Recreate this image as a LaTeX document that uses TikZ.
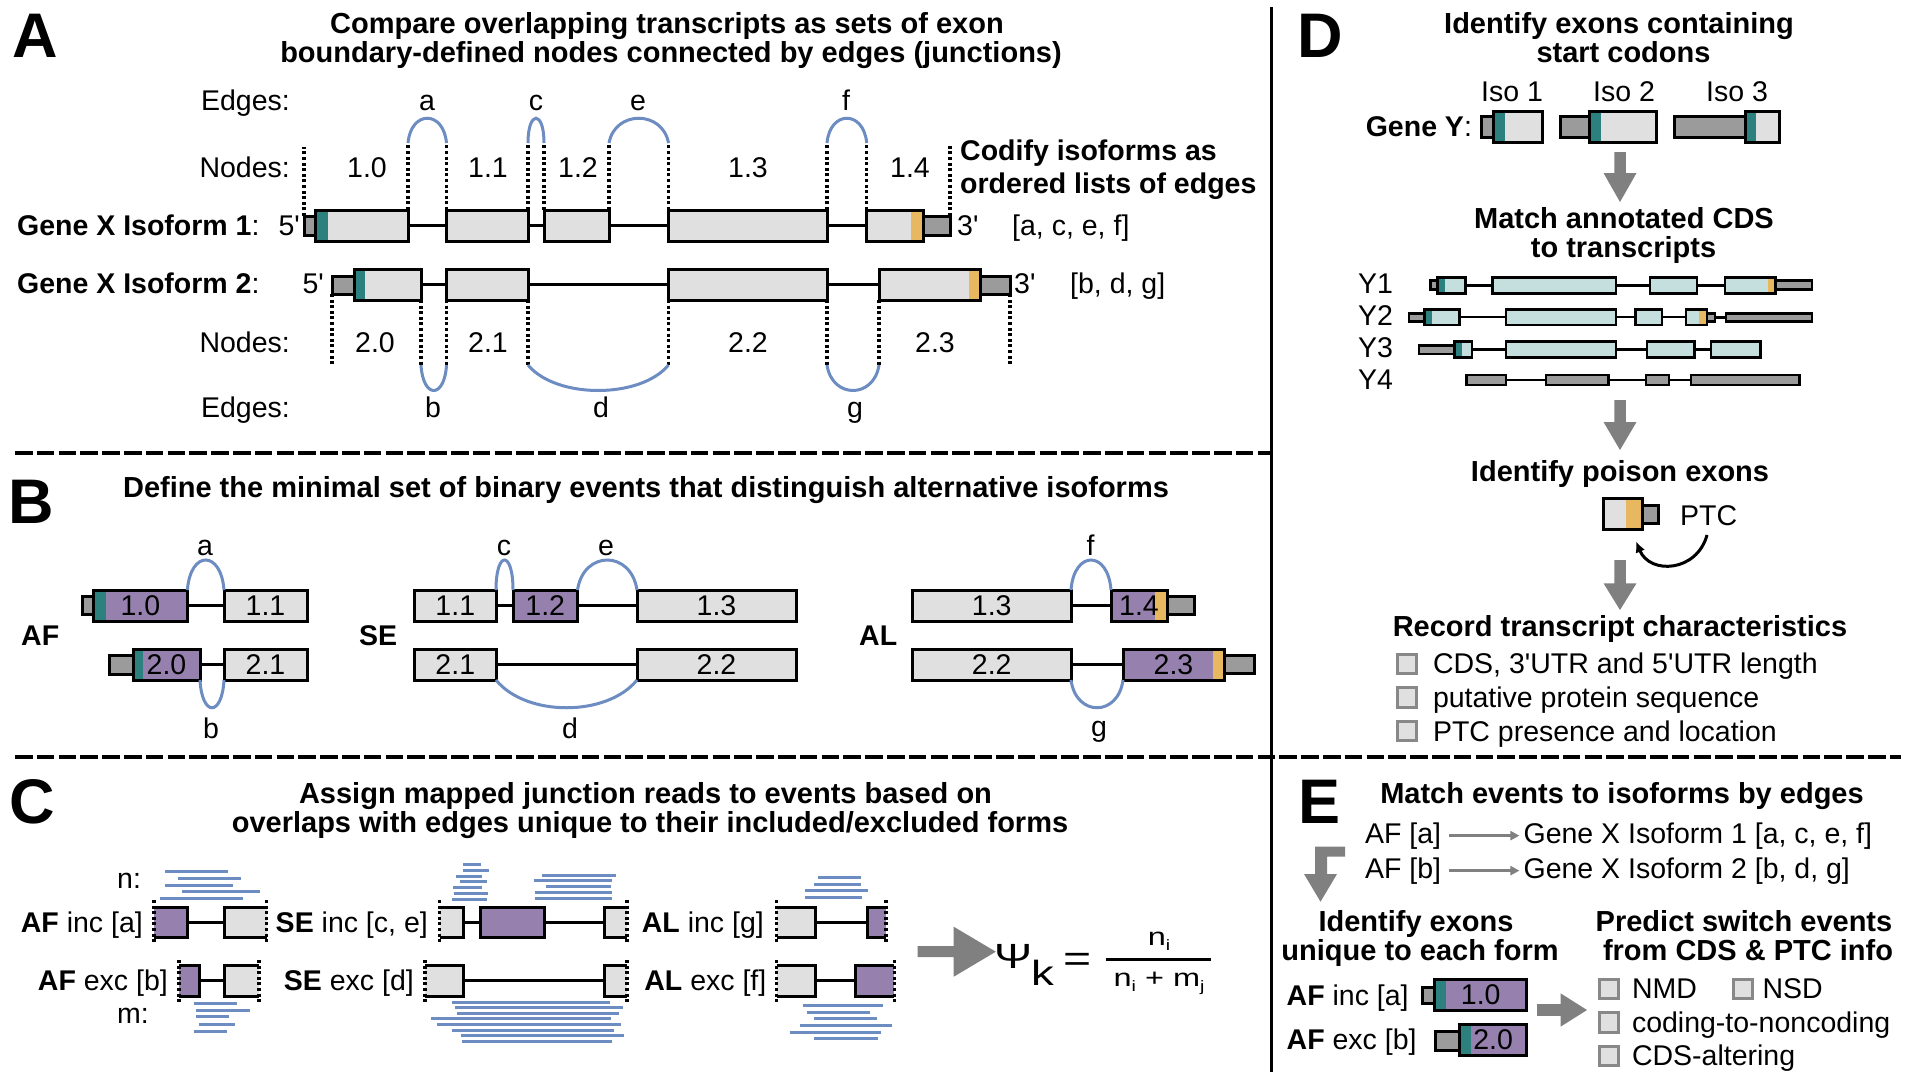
\documentclass[tikz,border=0pt]{standalone}
\usepackage{fontspec}
\setmainfont{Liberation Sans}
\newfontfamily\fmf[FakeStretch=1.3]{Liberation Sans}
\usetikzlibrary{arrows.meta}
\definecolor{exg}{RGB}{224,224,224}
\definecolor{utrg}{RGB}{155,155,155}
\definecolor{tealc}{RGB}{44,128,125}
\definecolor{orc}{RGB}{232,184,96}
\definecolor{purc}{RGB}{149,128,174}
\definecolor{bluec}{RGB}{108,140,194}
\definecolor{cdsc}{RGB}{197,223,222}
\definecolor{arrg}{RGB}{128,128,128}
\definecolor{boxg}{RGB}{136,136,136}
\newcommand\lab{\fontsize{28.5}{30}\selectfont}
\newcommand\ttlf{\fontsize{29}{29}\selectfont\bfseries}
\newcommand\apos{\textquotesingle}
\newcommand\fsub[1]{\raisebox{-5pt}{\fontsize{15}{15}\selectfont #1}}
\newcommand\mkex[7]{\node[#1, minimum width={(#4-#3)*1pt}, minimum height={(#6-#5)*1pt}] (#2) at ({(#3+#4)/2},{(#5+#6)/2}) {#7};}
\newcommand\gdarr[4]{\fill[arrg] (#1-5.75,#2) -- (#1+5.75,#2) -- (#1+5.75,#3) -- (#1+16.5,#3) -- (#1,#4) -- (#1-16.5,#3) -- (#1-5.75,#3) -- cycle;}
\begin{document}
\begin{tikzpicture}[x=1pt,y=-1pt,
 ex/.style={draw=black, line width=3pt, fill=exg, inner sep=0pt, outer sep=0pt, font=\lab},
 pex/.style={ex, fill=purc},
 utr/.style={ex, fill=utrg},
 cds/.style={ex, fill=cdsc, line width=2.5pt},
 dutr/.style={ex, fill=utrg, line width=2.5pt},
 cf/.style={inner sep=0pt, outer sep=0pt},
 tl/.style={path picture={\fill[tealc] (path picture bounding box.south west) rectangle ([xshift=#1]path picture bounding box.north west);}},
 orr/.style={path picture={\fill[orc] (path picture bounding box.south east) rectangle ([xshift=-#1]path picture bounding box.north east);}},
 intr/.style={line width=3pt},
 dintr/.style={line width=2.5pt},
 arcl/.style={draw=bluec, line width=3pt},
 dotl/.style={line width=3.2pt, dash pattern=on 3pt off 2.6pt},
 read/.style={draw=bluec, line width=3pt},
 lab/.style={font=\lab, inner sep=0pt, anchor=base},
 labw/.style={lab, anchor=base west},
 labe/.style={lab, anchor=base east},
 ttl/.style={font=\ttlf, inner sep=0pt, anchor=base},
 plet/.style={font=\fontsize{63}{63}\selectfont\bfseries, inner sep=0pt, anchor=base west},
 dsep/.style={line width=3.4pt, dash pattern=on 17.5pt off 4.3pt},
 chk/.style={draw=boxg, line width=3pt, fill=exg, minimum size=19.5pt, inner sep=0pt},
 tarr/.style={draw=arrg, line width=2.5pt, -{Triangle[length=9pt,width=9pt]}},
 curarr/.style={draw=black, line width=3pt, -{Latex[length=11pt,width=10pt]}},
 fml/.style={inner sep=0pt, anchor=base west}
]
\fill[white] (0,0) rectangle (1916,1076);
\useasboundingbox (0,0) rectangle (1916,1076);
% separators
\draw[line width=3pt] (1271,7) -- (1271,1072);
\draw[dsep] (15,453) -- (1271,453);
\draw[dsep] (15,757) -- (1901,757);

% ================= Panel A =================
\node[plet] (LA) at (12,57) {A};
\node[ttl] (tA1) at (667,33) {Compare overlapping transcripts as sets of exon};
\node[ttl] (tA2) at (671,62) {boundary-defined nodes connected by edges (junctions)};
\node[labe] (edg1) at (290,110) {Edges:};
\node[labe] (nod1) at (290,177) {Nodes:};
\node[labe] (nod2) at (290,352) {Nodes:};
\node[labe] (edg2) at (290,417) {Edges:};
\node[labw] (g1) at (17,235) {\textbf{Gene X Isoform 1}:};
\node[labe] (p51) at (300,235) {5\apos};
\node[labw] (g2) at (17,293) {\textbf{Gene X Isoform 2}:};
\node[labe] (p52) at (324,293) {5\apos};
% isoform 1
\mkex{utr}{u1a}{304}{315}{216}{235}{}
\mkex{ex,tl=13pt}{e10}{315}{408}{210}{241}{}
\mkex{ex}{e11}{446.5}{528}{210}{241}{}
\mkex{ex}{e12}{544}{609}{210}{241}{}
\mkex{ex}{e13}{668.5}{827}{210}{241}{}
\mkex{utr}{u1b}{923}{950}{216}{235}{}
\mkex{ex,orr=12pt}{e14}{866.7}{923}{210}{241}{}
\draw[intr] (e10.east) -- (e11.west);
\draw[intr] (e11.east) -- (e12.west);
\draw[intr] (e12.east) -- (e13.west);
\draw[intr] (e13.east) -- (e14.west);
\node[labw] (p31) at (957,235) {3\apos};
\node[labw] (l1) at (1012,235) {[a, c, e, f]};
% isoform 2
\mkex{utr}{u2a}{332}{354}{276}{294}{}
\mkex{ex,tl=11pt}{e20}{354}{421}{269}{300}{}
\mkex{ex}{e21}{446.5}{528}{269}{300}{}
\mkex{ex}{e22}{668.5}{827}{269}{300}{}
\mkex{utr}{u2b}{980}{1010}{276}{294}{}
\mkex{ex,orr=11.5pt}{e23}{879}{980}{269}{300}{}
\draw[intr] (e20.east) -- (e21.west);
\draw[intr] (e21.east) -- (e22.west);
\draw[intr] (e22.east) -- (e23.west);
\node[labw] (p32) at (1014,293) {3\apos};
\node[labw] (l2) at (1070,293) {[b, d, g]};
% dotted lines and arcs row 1
\draw[dotl] (u1a.north west) -- ++(0,-69);
\draw[dotl] (e10.north east) -- ++(0,-67) coordinate (a1);
\draw[dotl] (e11.north west) -- ++(0,-67) coordinate (a2);
\draw[dotl] (e11.north east) -- ++(0,-67) coordinate (c1);
\draw[dotl] (e12.north west) -- ++(0,-67) coordinate (c2);
\draw[dotl] (e12.north east) -- ++(0,-67) coordinate (ee1);
\draw[dotl] (e13.north west) -- ++(0,-67) coordinate (ee2);
\draw[dotl] (e13.north east) -- ++(0,-67) coordinate (f1);
\draw[dotl] (e14.north west) -- ++(0,-67) coordinate (f2);
\draw[dotl] (u1b.north east) -- ++(0,-70);
\draw[arcl] (a1) .. controls +(3,-33) and +(-3,-33) .. (a2);
\draw[arcl] (c1) .. controls +(0,-33) and +(0,-33) .. (c2);
\draw[arcl] (ee1) .. controls +(6,-33) and +(-6,-33) .. (ee2);
\draw[arcl] (f1) .. controls +(3,-33) and +(-3,-33) .. (f2);
\node[lab] (la) at (427,110) {a};
\node[lab] (lc) at (536,110) {c};
\node[lab] (le) at (638,110) {e};
\node[lab] (lf) at (846,110) {f};
\node[lab] (n10) at (367,177) {1.0};
\node[lab] (n11) at (488,177) {1.1};
\node[lab] (n12) at (578,177) {1.2};
\node[lab] (n13) at (748,177) {1.3};
\node[lab] (n14) at (910,177) {1.4};
% row 2 dotted + arcs
\draw[dotl] (u2a.south west) -- ++(0,71);
\draw[dotl] (e20.south east) -- ++(0,65) coordinate (b1);
\draw[dotl] (e21.south west) -- ++(0,65) coordinate (b2);
\draw[dotl] (e21.south east) -- ++(0,65) coordinate (d1);
\draw[dotl] (e22.south west) -- ++(0,65) coordinate (d2);
\draw[dotl] (e22.south east) -- ++(0,65) coordinate (g1);
\draw[dotl] (e23.south west) -- ++(0,65) coordinate (g2);
\draw[dotl] (u2b.south east) -- ++(0,71);
\draw[arcl] (b1) .. controls +(2,34) and +(-2,34) .. (b2);
\draw[arcl] (d1) .. controls +(28,34) and +(-28,34) .. (d2);
\draw[arcl] (g1) .. controls +(5,34) and +(-5,34) .. (g2);
\node[lab] (n20) at (375,352) {2.0};
\node[lab] (n21) at (488,352) {2.1};
\node[lab] (n22) at (748,352) {2.2};
\node[lab] (n23) at (935,352) {2.3};
\node[lab] (lb) at (433,417) {b};
\node[lab] (ld) at (601,417) {d};
\node[lab] (lg) at (855,417) {g};
\node[labw, font=\lab\bfseries] (cod1) at (960,160) {Codify isoforms as};
\node[labw, font=\lab\bfseries] (cod2) at (960,193) {ordered lists of edges};

% ================= Panel B =================
\node[plet] (LB) at (8,523) {B};
\node[ttl] (tB) at (646,497) {Define the minimal set of binary events that distinguish alternative isoforms};
\node[labw, font=\lab\bfseries] (bAF) at (21,645) {AF};
\node[labw, font=\lab\bfseries] (bSE) at (359,645) {SE};
\node[labw, font=\lab\bfseries] (bAL) at (859,645) {AL};
% AF
\mkex{utr}{bu1}{82}{93.3}{596}{614}{}
\mkex{pex,tl=13pt}{b10}{93.3}{187.4}{590}{621}{1.0}
\mkex{ex}{b11}{224}{307}{590}{621}{1.1}
\draw[intr] (b10.east) -- (b11.west);
\draw[arcl] (b10.north east) .. controls +(3,-40) and +(-3,-40) .. (b11.north west);
\node[lab] (ba) at (205,555) {a};
\mkex{utr}{bu2}{109}{133}{655}{674}{}
\mkex{pex,tl=10pt}{b20}{133}{200}{649}{680}{2.0}
\mkex{ex}{b21}{224}{307}{649}{680}{2.1}
\draw[intr] (b20.east) -- (b21.west);
\draw[arcl] (b20.south east) .. controls +(2,37) and +(-2,37) .. (b21.south west);
\node[lab] (bb) at (211,738) {b};
% SE
\mkex{ex}{s11}{414.6}{496}{590}{621}{1.1}
\mkex{pex}{s12}{513}{577.5}{590}{621}{1.2}
\mkex{ex}{s13}{637}{796}{590}{621}{1.3}
\draw[intr] (s11.east) -- (s12.west);
\draw[intr] (s12.east) -- (s13.west);
\draw[arcl] (s11.north east) .. controls +(0,-40) and +(0,-40) .. (s12.north west);
\draw[arcl] (s12.north east) .. controls +(6,-40) and +(-6,-40) .. (s13.north west);
\node[lab] (sc) at (504,555) {c};
\node[lab] (se) at (606,555) {e};
\mkex{ex}{s21}{414.6}{496}{649}{680}{2.1}
\mkex{ex}{s22}{637}{796}{649}{680}{2.2}
\draw[intr] (s21.east) -- (s22.west);
\draw[arcl] (s21.south east) .. controls +(30,37) and +(-30,37) .. (s22.south west);
\node[lab] (sd) at (570,738) {d};
% AL
\mkex{ex}{a13}{912.5}{1071}{590}{621}{1.3}
\mkex{utr}{au1}{1167}{1194.5}{596}{614}{}
\mkex{pex,orr=12pt}{a14}{1111}{1167}{590}{621}{1.4}
\draw[intr] (a13.east) -- (a14.west);
\draw[arcl] (a13.north east) .. controls +(3,-40) and +(-3,-40) .. (a14.north west);
\node[lab] (af) at (1090.5,555) {f};
\mkex{ex}{a22}{912.5}{1071}{649}{680}{2.2}
\mkex{utr}{au2}{1224}{1254}{655}{673}{}
\mkex{pex,orr=11pt}{a23}{1123}{1224}{649}{680}{2.3}
\draw[intr] (a22.east) -- (a23.west);
\draw[arcl] (a22.south east) .. controls +(5,37) and +(-5,37) .. (a23.south west);
\node[lab] (ag) at (1099,736) {g};

% ================= Panel C =================
\node[plet] (LC) at (9,823) {C};
\node[ttl] (tC1) at (645.5,803) {Assign mapped junction reads to events based on};
\node[ttl] (tC2) at (650,832) {overlaps with edges unique to their included/excluded forms};
\node[labw] (cn) at (117,888) {n:};
\node[labw] (cm) at (117,1023) {m:};
\node[labe] (cAFi) at (143,932) {\textbf{AF} inc [a]};
\node[labe] (cAFe) at (168,990) {\textbf{AF} exc [b]};
\node[labe] (cSEi) at (428,932) {\textbf{SE} inc [c, e]};
\node[labe] (cSEe) at (414,990) {\textbf{SE} exc [d]};
\node[labe] (cALi) at (764,932) {\textbf{AL} inc [g]};
\node[labe] (cALe) at (766.5,990) {\textbf{AL} exc [f]};
% AF inc
\mkex{cf,fill=purc}{ca1}{154}{187.4}{907}{937}{}
\mkex{cf,fill=exg}{ca2}{224.7}{266.6}{907}{937}{}
\draw[intr] (ca1.north west) -- (ca1.north east) -- (ca1.south east) -- (ca1.south west);
\draw[intr] (ca2.north east) -- (ca2.north west) -- (ca2.south west) -- (ca2.south east);
\draw[intr] (ca1.east) -- (ca2.west);
\draw[dotl] ([yshift=7pt]ca1.north west) -- ([yshift=-6pt]ca1.south west);
\draw[dotl] ([yshift=7pt]ca2.north east) -- ([yshift=-6pt]ca2.south east);
% AF exc
\mkex{cf,fill=purc}{cb1}{179}{199.4}{965}{996}{}
\mkex{cf,fill=exg}{cb2}{224.7}{259}{965}{996}{}
\draw[intr] (cb1.north west) -- (cb1.north east) -- (cb1.south east) -- (cb1.south west);
\draw[intr] (cb2.north east) -- (cb2.north west) -- (cb2.south west) -- (cb2.south east);
\draw[intr] (cb1.east) -- (cb2.west);
\draw[dotl] ([yshift=5pt]cb1.north west) -- ([yshift=-6pt]cb1.south west);
\draw[dotl] ([yshift=5pt]cb2.north east) -- ([yshift=-6pt]cb2.south east);
% SE inc
\mkex{cf,fill=exg}{cs1}{439.5}{463.5}{907}{937}{}
\mkex{pex}{cs2}{480}{544}{907}{937}{}
\mkex{cf,fill=exg}{cs3}{604}{627}{907}{937}{}
\draw[intr] (cs1.north west) -- (cs1.north east) -- (cs1.south east) -- (cs1.south west);
\draw[intr] (cs3.north east) -- (cs3.north west) -- (cs3.south west) -- (cs3.south east);
\draw[intr] (cs1.east) -- (cs2.west);
\draw[intr] (cs2.east) -- (cs3.west);
\draw[dotl] ([yshift=7pt]cs1.north west) -- ([yshift=-6pt]cs1.south west);
\draw[dotl] ([yshift=7pt]cs3.north east) -- ([yshift=-6pt]cs3.south east);
% SE exc
\mkex{cf,fill=exg}{ct1}{425}{463.5}{965}{996}{}
\mkex{cf,fill=exg}{ct2}{604}{627}{965}{996}{}
\draw[intr] (ct1.north west) -- (ct1.north east) -- (ct1.south east) -- (ct1.south west);
\draw[intr] (ct2.north east) -- (ct2.north west) -- (ct2.south west) -- (ct2.south east);
\draw[intr] (ct1.east) -- (ct2.west);
\draw[dotl] ([yshift=5pt]ct1.north west) -- ([yshift=-6pt]ct1.south west);
\draw[dotl] ([yshift=5pt]ct2.north east) -- ([yshift=-6pt]ct2.south east);
% AL inc
\mkex{cf,fill=exg}{cl1}{776.6}{815}{907}{937}{}
\mkex{cf,fill=purc}{cl2}{867}{886}{907}{937}{}
\draw[intr] (cl1.north west) -- (cl1.north east) -- (cl1.south east) -- (cl1.south west);
\draw[intr] (cl2.north east) -- (cl2.north west) -- (cl2.south west) -- (cl2.south east);
\draw[intr] (cl1.east) -- (cl2.west);
\draw[dotl] ([yshift=7pt]cl1.north west) -- ([yshift=-6pt]cl1.south west);
\draw[dotl] ([yshift=7pt]cl2.north east) -- ([yshift=-6pt]cl2.south east);
% AL exc
\mkex{cf,fill=exg}{cm1}{776.6}{815}{965}{996}{}
\mkex{cf,fill=purc}{cm2}{855}{894.4}{965}{996}{}
\draw[intr] (cm1.north west) -- (cm1.north east) -- (cm1.south east) -- (cm1.south west);
\draw[intr] (cm2.north east) -- (cm2.north west) -- (cm2.south west) -- (cm2.south east);
\draw[intr] (cm1.east) -- (cm2.west);
\draw[dotl] ([yshift=5pt]cm1.north west) -- ([yshift=-6pt]cm1.south west);
\draw[dotl] ([yshift=5pt]cm2.north east) -- ([yshift=-6pt]cm2.south east);
% reads
\foreach \a/\b/\y in {165/228/871.7, 177.5/240.5/878.3, 165/233/885, 181.6/260/891.7, 159.6/242.5/898.3,
 193.6/236.7/1003, 195.7/250/1010, 196/229/1016.7, 199/234.7/1024, 193.6/227/1031,
 463/481/864.3, 463/489/870, 456/482/876, 460/487/881.7, 453/482/887.3, 454/488/893.3, 452/487/899,
 542/615.7/875, 533.6/611.5/880.7, 546/610.7/886.7, 534.8/612/892.3, 534.8/612/898,
 452/609.5/1002.3, 455/623/1007.7, 457/619/1013.3, 431/611/1018.7, 437.4/620.6/1024.3, 452/614.4/1030, 461/624/1035.7, 462/611.5/1041.3,
 817.8/861/877.3, 813.6/860.7/884, 805/868/890.7, 805/862/897.3,
 803/883/1005.3, 807/870/1012, 814.4/876.7/1018.7, 800/891.5/1025.3, 789.6/881/1032, 813.6/878/1038.7}
 \draw[read] (\a,\y) -- (\b,\y);
% big arrow
\fill[arrg] (917.6,946) -- (953.7,946) -- (953.7,926.7) -- (995.8,951.7) -- (953.7,976.7) -- (953.7,957) -- (917.6,957) -- cycle;
% formula
\node[fml, font=\fmf\fontsize{35}{35}\selectfont] (psi) at (994,968) {Ψ};
\node[fml, font=\fmf\fontsize{35}{35}\selectfont] (psik) at (1031,985) {k};
\node[fml, font=\fmf\fontsize{37}{37}\selectfont] (eq) at (1063,971) {=};
\node[fml, anchor=base, font=\fmf\fontsize{25}{25}\selectfont] (num) at (1159,945) {n\fsub{i}};
\node[fml, anchor=base, font=\fmf\fontsize{25}{25}\selectfont] (den) at (1159,986) {n\fsub{i} + m\fsub{j}};
\draw[line width=3pt] (1106,959.5) -- (1211,959.5);

% ================= Panel D =================
\node[plet] (LD) at (1297,57) {D};
\node[ttl] (tD1) at (1619,33) {Identify exons containing};
\node[ttl] (tD2) at (1623.5,62) {start codons};
\node[lab] (iso1) at (1512,101.7) {Iso 1};
\node[lab] (iso2) at (1624,101.7) {Iso 2};
\node[lab] (iso3) at (1737,101.7) {Iso 3};
\node[labw] (gy) at (1365.6,136) {\textbf{Gene Y}:};
\mkex{utr}{iu1}{1481}{1493}{116}{137}{}
\mkex{ex,tl=12pt}{ie1}{1493}{1542}{111}{142.7}{}
\mkex{utr}{iu2}{1560}{1589}{116}{137}{}
\mkex{ex,tl=12pt}{ie2}{1589}{1656.5}{111}{142.7}{}
\mkex{utr}{iu3}{1674}{1745}{116}{137}{}
\mkex{ex,tl=11pt}{ie3}{1745}{1779.7}{111}{142.7}{}
\gdarr{1620}{152}{173}{202}
\node[ttl] (tD3) at (1624,228) {Match annotated CDS};
\node[ttl] (tD4) at (1623.5,257) {to transcripts};
\node[labw] (y1) at (1358,293) {Y1};
\node[labw] (y2) at (1358,325) {Y2};
\node[labw] (y3) at (1358,357) {Y3};
\node[labw] (y4) at (1358,389) {Y4};
% Y1
\mkex{dutr}{y1u}{1430.7}{1437.7}{280.7}{289.3}{}
\mkex{cds,tl=7.5pt}{y1a}{1437.7}{1465.7}{277.3}{293.3}{}
\mkex{cds}{y1b}{1492.5}{1616}{277.3}{293.3}{}
\mkex{cds}{y1c}{1650}{1697}{277.3}{293.3}{}
\mkex{dutr}{y1v}{1775.6}{1811.8}{280.7}{289.3}{}
\mkex{cds,orr=8pt}{y1d}{1725}{1775.6}{277.3}{293.3}{}
\draw[dintr] (y1a.east) -- (y1b.west);
\draw[dintr] (y1b.east) -- (y1c.west);
\draw[dintr] (y1c.east) -- (y1d.west);
% Y2
\mkex{dutr}{y2u}{1409}{1424.5}{313.3}{321.7}{}
\mkex{cds,tl=7pt}{y2a}{1424.5}{1459.5}{309.3}{325}{}
\mkex{cds}{y2b}{1506}{1616}{309.3}{325}{}
\mkex{cds}{y2c}{1635.5}{1662}{309.3}{325}{}
\mkex{dutr}{y2v}{1707}{1715}{313.3}{321.7}{}
\mkex{cds,orr=8.5pt}{y2d}{1686}{1707}{309.3}{325}{}
\mkex{dutr}{y2w}{1726}{1812}{313.3}{321.7}{}
\draw[dintr] (y2a.east) -- (y2b.west);
\draw[dintr] (y2b.east) -- (y2c.west);
\draw[dintr] (y2c.east) -- (y2d.west);
\draw[dintr] (y2v.east) -- (y2w.west);
% Y3
\mkex{dutr}{y3u}{1419}{1454.6}{345.7}{354}{}
\mkex{cds,tl=7pt}{y3a}{1454.6}{1472}{341.7}{357.3}{}
\mkex{cds}{y3b}{1506}{1616}{341.7}{357.3}{}
\mkex{cds}{y3c}{1647}{1694.4}{341.7}{357.3}{}
\mkex{cds}{y3d}{1711}{1760.3}{341.7}{357.3}{}
\draw[dintr] (y3a.east) -- (y3b.west);
\draw[dintr] (y3b.east) -- (y3c.west);
\draw[dintr] (y3c.east) -- (y3d.west);
% Y4
\mkex{dutr}{y4a}{1466.5}{1506}{375}{385}{}
\mkex{dutr}{y4b}{1546}{1608.7}{375}{385}{}
\mkex{dutr}{y4c}{1646}{1669}{375}{385}{}
\mkex{dutr}{y4d}{1691}{1799.5}{375}{385}{}
\draw[dintr] (y4a.east) -- (y4b.west);
\draw[dintr] (y4b.east) -- (y4c.west);
\draw[dintr] (y4c.east) -- (y4d.west);
\gdarr{1620}{400}{422}{450}
\node[ttl] (tD5) at (1620,481.7) {Identify poison exons};
\mkex{utr}{pu}{1642}{1658.5}{505}{523.3}{}
\mkex{ex,orr=16pt}{pe}{1603.7}{1642}{498.3}{529.3}{}
\node[labw] (ptc) at (1680,525) {PTC};
\coordinate (ptcs) at (1707,535);
\draw[curarr] (ptcs) .. controls (1697,572) and (1650,575) .. ([xshift=-6pt,yshift=-12pt]pe.south east);
\gdarr{1620}{560}{583.3}{610}
\node[ttl] (tD6) at (1620,636.7) {Record transcript characteristics};
\node[chk] (k1) at (1407,664) {};
\node[chk] (k2) at (1407,697.5) {};
\node[chk] (k3) at (1407,731) {};
\node[labw] (kt1) at (1432.8,673.5) {CDS, 3\apos UTR and 5\apos UTR length};
\node[labw] (kt2) at (1432.8,707.5) {putative protein sequence};
\node[labw] (kt3) at (1432.8,741.5) {PTC presence and location};

% ================= Panel E =================
\node[plet] (LE) at (1298.5,823) {E};
\node[ttl] (tE1) at (1622,803) {Match events to isoforms by edges};
\node[labw] (afa) at (1364.8,843) {AF [a]};
\node[labw] (afb) at (1364.8,878) {AF [b]};
\node[labw] (gxa) at (1523.4,843) {Gene X Isoform 1 [a, c, e, f]};
\node[labw] (gxb) at (1523.4,878) {Gene X Isoform 2 [b, d, g]};
\draw[tarr] ([xshift=8pt]afa.east) -- ([xshift=-4pt]afa.east -| gxa.west);
\draw[tarr] ([xshift=8pt]afb.east) -- ([xshift=-4pt]afb.east -| gxb.west);
\fill[arrg] (1345,846.7) -- (1315,846.7) -- (1315,874) -- (1304,874) -- (1320.5,901.7) -- (1337,874) -- (1327,874) -- (1327,856.7) -- (1345,856.7) -- cycle;
\node[ttl] (tE2) at (1416,931.7) {Identify exons};
\node[ttl] (tE3) at (1420,960) {unique to each form};
\node[ttl] (tE4) at (1744,931.7) {Predict switch events};
\node[ttl] (tE5) at (1748,960) {from CDS \& PTC info};
\node[labw] (eai) at (1286.5,1005) {\textbf{AF} inc [a]};
\node[labw] (eae) at (1286.5,1049.5) {\textbf{AF} exc [b]};
\mkex{utr}{eu1}{1422.5}{1434.8}{987}{1003.3}{}
\mkex{pex,tl=11.5pt}{ee1}{1434.8}{1526.7}{979}{1010}{1.0}
\mkex{utr}{eu2}{1435.6}{1459.5}{1031.7}{1050}{}
\mkex{pex,tl=11pt}{ee2}{1459.5}{1526.7}{1024}{1055}{2.0}
\fill[arrg] (1537,1004.2) -- (1560.5,1004.2) -- (1560.5,993.3) -- (1587,1010) -- (1560.5,1026.7) -- (1560.5,1015.8) -- (1537,1015.8) -- cycle;
\node[chk] (q1) at (1609,989) {};
\node[chk] (q2) at (1743,989) {};
\node[chk] (q3) at (1609,1022.5) {};
\node[chk] (q4) at (1609,1056) {};
\node[labw] (qt1) at (1631.8,998.5) {NMD};
\node[labw] (qt2) at (1762.4,998.5) {NSD};
\node[labw] (qt3) at (1631.8,1032) {coding-to-noncoding};
\node[labw] (qt4) at (1631.8,1065) {CDS-altering};
\end{tikzpicture}
\end{document}
